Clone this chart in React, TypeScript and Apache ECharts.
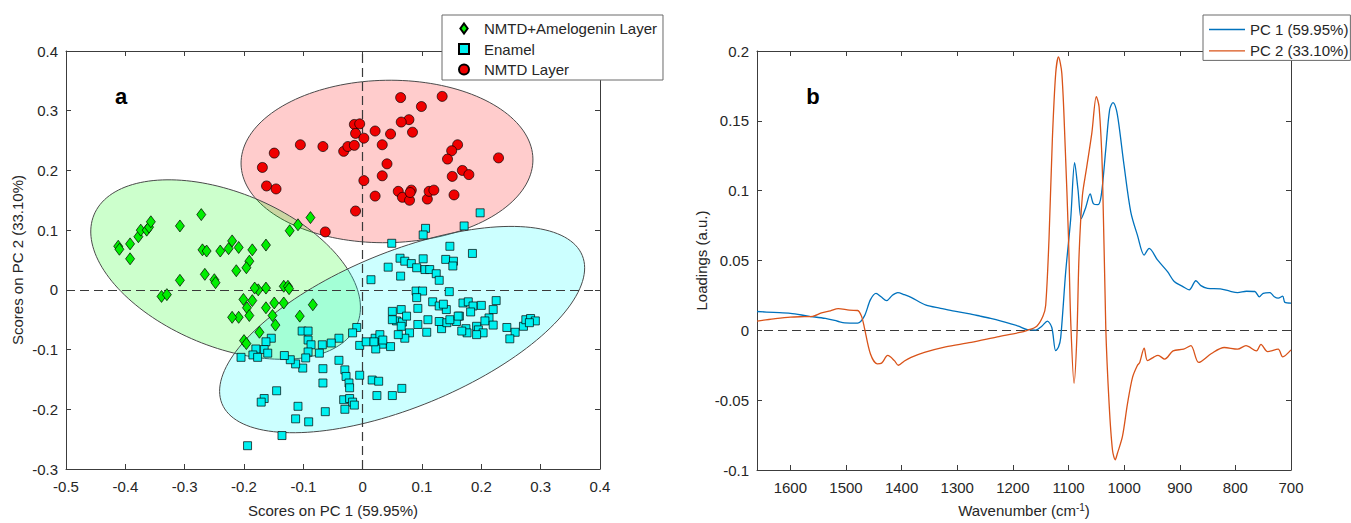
import React, { useEffect, useRef } from "react";
import * as echarts from "echarts";

// ---------- Panel a: PCA scores ----------
const amelogeninPoints: number[][] = [
  [-0.412, 0.073], [-0.41, 0.068], [-0.392, 0.077], [-0.392, 0.052], [-0.378, 0.089], [-0.374, 0.1],
  [-0.364, 0.1], [-0.36, 0.105], [-0.357, 0.114], [-0.308, 0.107], [-0.272, 0.126], [-0.27, 0.067],
  [-0.263, 0.065], [-0.24, 0.065], [-0.226, 0.069], [-0.22, 0.082], [-0.209, 0.071], [-0.186, 0.067],
  [-0.163, 0.075], [-0.191, 0.048], [-0.196, 0.037], [-0.213, 0.032], [-0.266, 0.026], [-0.25, 0.017],
  [-0.248, 0.012], [-0.308, 0.016], [-0.339, -0.011], [-0.33, -0.008], [-0.123, 0.099], [-0.109, 0.109],
  [-0.088, 0.121], [-0.176, 0.0], [-0.163, 0.003], [-0.182, 0.003], [-0.133, 0.006], [-0.126, 0.006],
  [-0.124, 0.002], [-0.201, -0.016], [-0.186, -0.018], [-0.195, -0.03], [-0.209, -0.046], [-0.22, -0.046],
  [-0.191, -0.043], [-0.163, -0.03], [-0.149, -0.022], [-0.133, -0.022], [-0.152, -0.043], [-0.147, -0.059],
  [-0.084, -0.025], [-0.106, -0.044], [-0.174, -0.071], [-0.2, -0.085], [-0.196, -0.09],
];

const enamelPoints: number[][] = [
  [0.198, 0.129], [0.106, 0.103], [0.102, 0.092], [0.171, 0.107], [0.049, 0.078], [0.147, 0.073], [0.185, 0.061],
  [0.063, 0.053], [0.071, 0.048], [0.082, 0.044], [0.091, 0.037], [0.102, 0.052], [0.105, 0.034], [0.113, 0.034],
  [0.124, 0.027], [0.129, 0.016], [0.043, 0.038], [0.064, 0.023], [0.014, 0.017], [0.14, 0.051], [0.153, 0.048],
  [0.152, 0.04], [0.09, -0.002], [0.101, -0.002], [0.091, -0.013], [0.146, -0.003], [0.093, -0.031],
  [0.118, -0.02], [0.129, -0.027], [0.141, -0.033], [0.136, -0.024], [0.169, -0.022], [0.178, -0.02],
  [0.186, -0.027], [0.2, -0.026], [0.182, -0.037], [0.163, -0.044], [0.158, -0.053], [0.225, -0.018],
  [0.22, -0.033], [0.213, -0.047], [0.206, -0.052], [0.22, -0.059], [0.05, -0.036], [0.065, -0.033],
  [0.057, -0.052], [0.067, -0.054], [0.074, -0.044], [0.05, -0.05], [0.065, -0.061], [0.093, -0.058],
  [0.11, -0.05], [0.079, -0.072], [0.071, -0.081], [0.06, -0.075], [0.108, -0.071], [0.133, -0.065],
  [0.129, -0.053], [0.142, -0.055], [0.147, -0.05], [0.161, -0.044], [0.174, -0.065], [0.176, -0.072],
  [0.192, -0.061], [0.195, -0.067], [0.203, -0.072], [0.192, -0.075], [0.167, -0.069], [0.243, -0.063],
  [0.257, -0.071], [0.248, -0.082], [0.271, -0.061], [0.275, -0.05], [0.283, -0.048], [0.291, -0.052],
  [0.281, -0.055], [-0.01, -0.063], [-0.017, -0.072], [-0.005, -0.093], [0.006, -0.087], [0.021, -0.081],
  [0.029, -0.075], [0.033, -0.091], [0.047, -0.095], [0.022, -0.099], [0.019, -0.087], [0.034, -0.084],
  [-0.04, -0.081], [-0.053, -0.089], [-0.068, -0.092], [-0.073, -0.106], [-0.102, -0.069], [-0.092, -0.069],
  [-0.092, -0.084], [-0.087, -0.092], [-0.092, -0.104], [-0.096, -0.114], [-0.101, -0.131], [-0.113, -0.124],
  [-0.122, -0.117], [-0.132, -0.11], [-0.154, -0.081], [-0.163, -0.087], [-0.166, -0.1], [-0.16, -0.106],
  [-0.18, -0.099], [-0.185, -0.109], [-0.177, -0.113], [-0.205, -0.113], [-0.04, -0.118], [-0.067, -0.132],
  [-0.067, -0.156], [-0.03, -0.134], [-0.028, -0.145], [-0.023, -0.156], [-0.022, -0.164], [-0.005, -0.143],
  [0.016, -0.151], [0.027, -0.153], [0.066, -0.165], [0.05, -0.177], [0.024, -0.177], [-0.032, -0.184],
  [-0.022, -0.182], [-0.017, -0.188], [-0.014, -0.193], [-0.03, -0.2], [-0.145, -0.169], [-0.166, -0.182],
  [-0.171, -0.188], [-0.109, -0.195], [-0.063, -0.204], [-0.091, -0.221], [-0.113, -0.216], [-0.136, -0.244],
  [-0.194, -0.261],
];

const nmtdPoints: number[][] = [
  [0.064, 0.322], [0.134, 0.324], [0.099, 0.307], [0.078, 0.285], [0.065, 0.281], [-0.014, 0.277],
  [-0.005, 0.278], [-0.012, 0.262], [0.002, 0.254], [0.021, 0.266], [0.047, 0.261], [0.084, 0.264],
  [-0.105, 0.243], [-0.067, 0.24], [-0.032, 0.232], [-0.025, 0.24], [-0.014, 0.242], [0.033, 0.243],
  [-0.149, 0.229], [0.16, 0.243], [0.15, 0.233], [0.229, 0.221], [0.143, 0.219], [0.041, 0.211],
  [-0.169, 0.205], [0.168, 0.2], [0.179, 0.193], [0.151, 0.19], [0.033, 0.191], [0.002, 0.183],
  [-0.162, 0.174], [-0.146, 0.169], [0.021, 0.157], [0.06, 0.165], [0.067, 0.155], [0.079, 0.15],
  [0.082, 0.167], [0.109, 0.152], [0.112, 0.165], [0.12, 0.167], [0.154, 0.159], [-0.012, 0.132],
  [-0.063, 0.097], [0.08, 0.163],
];

// confidence ellipses: [centreX, centreY, semiAxisA, semiAxisB, rotationDeg]
const ellipseNmtd = [0.041, 0.215, 0.246, 0.136, 1];
const ellipseAmelogenin = [-0.231, 0.034, 0.24, 0.129, -22.4];
const ellipseEnamel = [0.0665, -0.0665, 0.328, 0.13, 22.2];

const xTicksA = { min: -0.5, max: 0.4, step: 0.1 };
const yTicksA = { min: -0.3, max: 0.4, step: 0.1 };

// ---------- Panel b: loadings ----------
const pc1Wavenumber = [
  1660, 1630, 1600, 1568, 1537, 1515, 1502, 1479, 1467, 1456, 1446, 1437, 1427, 1417, 1407, 1395, 1383,
  1356, 1330, 1305, 1280, 1259, 1240, 1221, 1205, 1190, 1174, 1159, 1148, 1138, 1130, 1123, 1118, 1114,
  1105, 1096, 1089, 1083, 1077, 1069, 1061, 1055, 1047, 1041, 1033, 1026, 1020, 1014, 1009, 1000, 988, 976,
  964, 955, 940, 922, 910, 895, 883, 871, 862, 850, 827, 810, 796, 780, 765, 757, 750, 738, 730, 723,
  715, 711, 700,
];
const pc1Loading = [
  0.0135, 0.0128, 0.0122, 0.0102, 0.0085, 0.0065, 0.0054, 0.0052, 0.0102, 0.022, 0.0265, 0.024, 0.0213,
  0.025, 0.027, 0.0255, 0.0236, 0.018, 0.0158, 0.0137, 0.012, 0.0102, 0.0085, 0.0066, 0.0048, 0.003,
  0.0005, 0.0002, 0.003, 0.0066, 0.002, -0.0146, -0.012, -0.0052, 0.042, 0.08, 0.12, 0.101, 0.08, 0.088,
  0.0977, 0.0906, 0.09, 0.097, 0.1296, 0.158, 0.163, 0.158, 0.146, 0.1177, 0.0847, 0.068, 0.0539, 0.0587,
  0.0504, 0.042, 0.035, 0.0315, 0.029, 0.0355, 0.032, 0.03, 0.0297, 0.028, 0.027, 0.028, 0.0278, 0.024,
  0.0265, 0.027, 0.024, 0.023, 0.0245, 0.02, 0.0195,
];

const pc2Wavenumber = [
  1660, 1630, 1600, 1575, 1560, 1544, 1528, 1514, 1494, 1479, 1472, 1467, 1456, 1444, 1436, 1425, 1413,
  1406, 1395, 1383, 1359, 1321, 1275, 1228, 1190, 1174, 1157, 1146, 1141, 1135, 1129, 1123, 1118, 1112,
  1106, 1100, 1096, 1090, 1085, 1081, 1075, 1068, 1058, 1050, 1045, 1039, 1033, 1027, 1021, 1016, 1012,
  1003, 994, 985, 976, 972, 964, 958, 946, 939, 927, 912, 893, 880, 866, 843, 820, 796, 781, 762, 754,
  742, 723, 715, 700,
];
const pc2Loading = [
  0.0066, 0.0082, 0.0095, 0.0098, 0.01, 0.0125, 0.014, 0.0156, 0.0144, 0.0142, 0.01, 0.002, -0.017,
  -0.024, -0.0235, -0.018, -0.0217, -0.025, -0.022, -0.0194, -0.0158, -0.0118, -0.0087, -0.0047, -0.0017,
  0.0, 0.003, 0.01, 0.018, 0.066, 0.137, 0.184, 0.1957, 0.184, 0.132, 0.066, 0.0066, -0.038, -0.0052,
  0.054, 0.0965, 0.115, 0.1414, 0.1674, 0.16, 0.113, 0.002, -0.0525, -0.0855, -0.0927, -0.088, -0.076,
  -0.0527, -0.0338, -0.025, -0.023, -0.0128, -0.0217, -0.019, -0.018, -0.0206, -0.0147, -0.0135, -0.011,
  -0.023, -0.0166, -0.0123, -0.0135, -0.011, -0.0147, -0.01, -0.0152, -0.0135, -0.019, -0.014,
];

const xTicksB = { min: 700, max: 1660, step: 100 };
const yTicksB = { min: -0.1, max: 0.2, step: 0.05 };

const seriesNamesA = ["NMTD+Amelogenin Layer", "Enamel", "NMTD Layer"];
const seriesNamesB = ["PC 1 (59.95%)", "PC 2 (33.10%)"];

const FONT = "'Liberation Sans', Arial, Helvetica, sans-serif";
const AXIS_COLOR = "#3c3c3c";
const TEXT_COLOR = "#262626";

function fmt(v: number, digits: number) {
  const p = Math.pow(10, digits);
  return String(Math.round(v * p) / p);
}

function boxAxis(extra: any) {
  return {
    type: "value",
    splitLine: { show: false },
    axisLine: { show: true, onZero: false, lineStyle: { color: AXIS_COLOR, width: 1 } },
    axisTick: { show: true, inside: true, length: 5, lineStyle: { color: AXIS_COLOR, width: 1 } },
    axisLabel: { show: false },
    ...extra,
  };
}

export default function App() {
  const ref = useRef<HTMLDivElement>(null);

  useEffect(() => {
    document.body.style.margin = "0";
    if (!ref.current) return;
    const chart = echarts.init(ref.current, undefined, { renderer: "svg" });

    const ellipseFills = ["rgba(255,0,0,0.2)", "rgba(0,255,0,0.2)", "rgba(0,255,255,0.2)"];

    const labelStyle = { fontSize: 15, color: TEXT_COLOR, fontFamily: FONT };
    const lineIcon = "path://M0,0H36V1.4H0Z";

    const option: any = {
      animation: false,
      textStyle: { fontFamily: FONT },
      grid: [
        { left: 66, top: 51, width: 534, height: 422 },
        { left: 757, top: 51, width: 534, height: 422 },
      ],
      xAxis: [
        boxAxis({
          gridIndex: 0, position: "bottom", min: xTicksA.min, max: xTicksA.max, interval: xTicksA.step,
          axisLabel: { show: true, margin: 10, ...labelStyle, formatter: (v: number) => fmt(v, 2) },
          name: "Scores on PC 1 (59.95%)", nameLocation: "middle", nameGap: 34,
          nameTextStyle: { ...labelStyle },
        }),
        boxAxis({ gridIndex: 0, position: "top", min: xTicksA.min, max: xTicksA.max, interval: xTicksA.step }),
        boxAxis({
          gridIndex: 1, position: "bottom", inverse: true, min: xTicksB.min, max: xTicksB.max, interval: xTicksB.step,
          axisLabel: {
            show: true, margin: 10, ...labelStyle, showMaxLabel: false,
            formatter: (v: number) => (v > 1600 ? "" : String(v)),
          },
          name: "{n|Wavenumber (cm}{s|-1}{n|)}", nameLocation: "middle", nameGap: 32,
          nameTextStyle: {
            ...labelStyle,
            rich: {
              n: { fontSize: 15, color: TEXT_COLOR, fontFamily: FONT, lineHeight: 17 },
              s: { fontSize: 10, color: TEXT_COLOR, fontFamily: FONT, verticalAlign: "top", lineHeight: 17 },
            },
          },
        }),
        boxAxis({ gridIndex: 1, position: "top", inverse: true, min: xTicksB.min, max: xTicksB.max, interval: xTicksB.step }),
      ],
      yAxis: [
        boxAxis({
          gridIndex: 0, position: "left", min: yTicksA.min, max: yTicksA.max, interval: yTicksA.step,
          axisLabel: { show: true, margin: 8, ...labelStyle, formatter: (v: number) => fmt(v, 2) },
          name: "Scores on PC 2 (33.10%)", nameLocation: "middle", nameGap: 41,
          nameTextStyle: { ...labelStyle },
        }),
        boxAxis({ gridIndex: 0, position: "right", min: yTicksA.min, max: yTicksA.max, interval: yTicksA.step }),
        boxAxis({
          gridIndex: 1, position: "left", min: yTicksB.min, max: yTicksB.max, interval: yTicksB.step,
          axisLabel: { show: true, margin: 8, ...labelStyle, formatter: (v: number) => fmt(v, 3) },
          name: "Loadings (a.u.)", nameLocation: "middle", nameGap: 48,
          nameTextStyle: { ...labelStyle },
        }),
        boxAxis({ gridIndex: 1, position: "right", min: yTicksB.min, max: yTicksB.max, interval: yTicksB.step }),
      ],
      legend: [
        {
          data: [
            { name: seriesNamesA[0], icon: "path://M4,0L8,5.5L4,11L0,5.5Z" },
            { name: seriesNamesA[1], icon: "path://M0,0H8V8H0Z" },
            { name: seriesNamesA[2], icon: "path://M9,4.5A4.5,4.5,0,1,1,0,4.5A4.5,4.5,0,1,1,9,4.5Z" },
          ],
          orient: "vertical", left: 442, top: 15,
          padding: [6, 6, 3, 16], itemGap: 5.5, itemWidth: 30, itemHeight: 10,
          backgroundColor: "#ffffff", borderColor: "#6a6a6a", borderWidth: 1, borderRadius: 0,
          selectedMode: false, textStyle: { ...labelStyle },
        },
        {
          data: [
            { name: seriesNamesB[0], icon: lineIcon },
            { name: seriesNamesB[1], icon: lineIcon },
          ],
          orient: "vertical", left: 1203, top: 15,
          padding: [7, 2, 2, 6], itemGap: 6.4, itemWidth: 36, itemHeight: 10,
          backgroundColor: "#ffffff", borderColor: "#6a6a6a", borderWidth: 1, borderRadius: 0,
          selectedMode: false, textStyle: { ...labelStyle },
        },
      ],
      graphic: [
        { type: "text", x: 121, y: 96, style: { text: "a", fontSize: 22, fontWeight: "bold", fontFamily: FONT, fill: "#000", align: "center", verticalAlign: "middle" } },
        { type: "text", x: 813, y: 96, style: { text: "b", fontSize: 22, fontWeight: "bold", fontFamily: FONT, fill: "#000", align: "center", verticalAlign: "middle" } },
      ],
      series: [
        {
          type: "custom",
          name: "ellipses",
          xAxisIndex: 0, yAxisIndex: 0,
          z: 1,
          silent: true,
          encode: { x: 0, y: 1 },
          data: [ellipseNmtd, ellipseAmelogenin, ellipseEnamel],
          renderItem: (params: any, api: any) => {
            const cx = api.value(0), cy = api.value(1), a = api.value(2), b = api.value(3);
            const ang = (api.value(4) * Math.PI) / 180;
            const pts: number[][] = [];
            const n = 160;
            for (let k = 0; k < n; k++) {
              const t = (k / n) * 2 * Math.PI;
              const ex = a * Math.cos(t), ey = b * Math.sin(t);
              pts.push(api.coord([cx + ex * Math.cos(ang) - ey * Math.sin(ang), cy + ex * Math.sin(ang) + ey * Math.cos(ang)]));
            }
            return {
              type: "polygon",
              shape: { points: pts },
              style: { fill: ellipseFills[params.dataIndex], stroke: "#4a4a4a", lineWidth: 1 },
            };
          },
          markLine: {
            silent: true, symbol: "none", z: 2,
            label: { show: false },
            lineStyle: { type: [9, 5], color: "#3a3a3a", width: 1.2 },
            data: [{ xAxis: 0 }, { yAxis: 0 }],
          },
        },
        {
          type: "scatter", name: seriesNamesA[0], xAxisIndex: 0, yAxisIndex: 0, z: 3,
          symbol: "diamond", symbolSize: [9, 12],
          itemStyle: { color: "#00ee00", borderColor: "#000", borderWidth: 0.7, opacity: 1 },
          data: amelogeninPoints,
        },
        {
          type: "scatter", name: seriesNamesA[1], xAxisIndex: 0, yAxisIndex: 0, z: 3,
          symbol: "rect", symbolSize: 8,
          itemStyle: { color: "#00f0f0", borderColor: "#000", borderWidth: 0.7, opacity: 1 },
          data: enamelPoints,
        },
        {
          type: "scatter", name: seriesNamesA[2], xAxisIndex: 0, yAxisIndex: 0, z: 3,
          symbol: "circle", symbolSize: 10,
          itemStyle: { color: "#f00000", borderColor: "#000", borderWidth: 0.7, opacity: 1 },
          data: nmtdPoints,
        },
        {
          type: "line", name: seriesNamesB[0], xAxisIndex: 2, yAxisIndex: 2, z: 3,
          symbol: "none", smooth: 0.3,
          lineStyle: { color: "#0072BD", width: 1.3 },
          itemStyle: { color: "#0072BD" },
          data: pc1Wavenumber.map((w, i) => [w, pc1Loading[i]]),
          markLine: {
            silent: true, symbol: "none", z: 2,
            label: { show: false },
            lineStyle: { type: [9, 5], color: "#3a3a3a", width: 1.2 },
            data: [{ yAxis: 0 }],
          },
        },
        {
          type: "line", name: seriesNamesB[1], xAxisIndex: 2, yAxisIndex: 2, z: 3,
          symbol: "none", smooth: 0.3,
          lineStyle: { color: "#D95319", width: 1.3 },
          itemStyle: { color: "#D95319" },
          data: pc2Wavenumber.map((w, i) => [w, pc2Loading[i]]),
        },
      ],
    };

    chart.setOption(option);
    return () => chart.dispose();
  }, []);

  return <div ref={ref} style={{ width: 1351, height: 523 }} />;
}
